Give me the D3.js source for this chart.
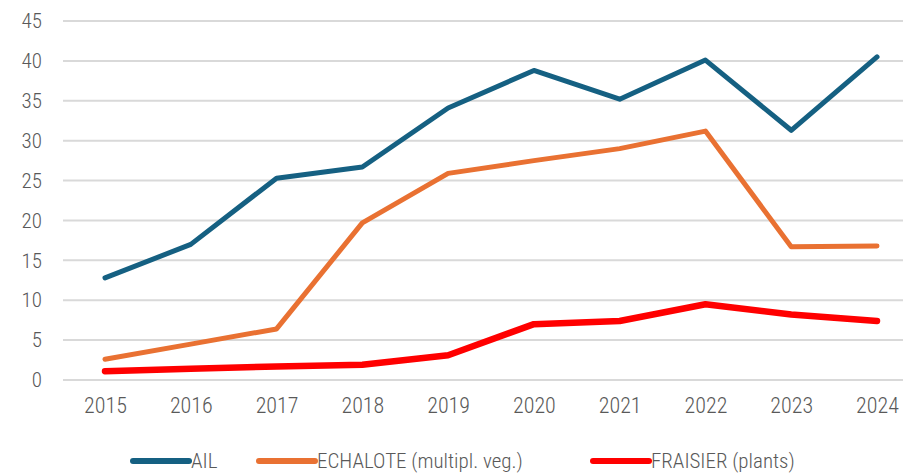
<!DOCTYPE html>
<html>
<head>
<meta charset="utf-8">
<script src="https://cdn.jsdelivr.net/npm/d3@7"></script>
<style>
  body { margin: 0; background: #fff; }
  text { font-family: "Liberation Sans Narrow", "Arial Narrow", "Roboto Condensed", "Liberation Sans", sans-serif; fill: #595959; font-weight: 300; }
</style>
</head>
<body>
<div id="chart"></div>
<script>
/*
 * data
 */
const years = ['2015', '2016', '2017', '2018', '2019', '2020', '2021', '2022', '2023', '2024']
const ail = [12.8, 17.0, 25.3, 26.7, 34.1, 38.8, 35.2, 40.1, 31.3, 40.5]
const echalote = [2.6, 4.5, 6.4, 19.7, 25.9, 27.5, 29.0, 31.2, 16.7, 16.8]
const fraisier = [1.1, 1.4, 1.7, 1.9, 3.1, 7.0, 7.4, 9.5, 8.2, 7.4]
const yTicks = [0, 5, 10, 15, 20, 25, 30, 35, 40, 45]
const seriesNames = ['AIL', 'ECHALOTE (multipl. veg.)', 'FRAISIER (plants)']

const series = [
  { name: seriesNames[0], values: ail, color: '#156082', width: 5 },
  { name: seriesNames[1], values: echalote, color: '#E97132', width: 5 },
  { name: seriesNames[2], values: fraisier, color: '#FF0000', width: 6.5 }
]

/*
 * svg
 */
const w = 903
const h = 474
const svg = d3.select('#chart')
  .append('svg')
  .attr('width', w)
  .attr('height', h)

const x = d3.scalePoint()
  .domain(years)
  .range([105, 877])

const y = d3.scaleLinear()
  .domain([0, 45])
  .range([380, 21])

// gridlines
svg.append('g')
  .selectAll('line')
  .data(yTicks)
  .enter()
  .append('line')
  .attr('x1', 63)
  .attr('x2', w)
  .attr('y1', d => y(d))
  .attr('y2', d => y(d))
  .style('stroke', '#d9d9d9')
  .style('stroke-width', 2)

// y labels
const yAxis = svg.append('g')
  .attr('transform', 'translate(42,0)')
  .call(d3.axisLeft(y).tickValues(yTicks).tickSize(0).tickPadding(0))
yAxis.select('.domain').remove()
yAxis.selectAll('text')
  .style('font-size', '21px')
  .attr('fill', '#595959')

// x labels
const xAxis = svg.append('g')
  .attr('transform', 'translate(0,397)')
  .call(d3.axisBottom(x).tickSize(0).tickPadding(0))
xAxis.select('.domain').remove()
xAxis.selectAll('text')
  .style('font-size', '22px')
  .attr('fill', '#595959')

// lines
const line = d3.line()
  .x((d, i) => x(years[i]))
  .y(d => y(d))

svg.append('g')
  .selectAll('path')
  .data(series)
  .enter()
  .append('path')
  .attr('d', d => line(d.values))
  .style('fill', 'none')
  .style('stroke', d => d.color)
  .style('stroke-width', d => d.width)
  .style('stroke-linecap', 'round')
  .style('stroke-linejoin', 'round')

// legend
const legendX = [133, 259, 593]
const legend = svg.append('g')
  .selectAll('g')
  .data(series)
  .enter()
  .append('g')
  .attr('transform', (d, i) => `translate(${legendX[i]},461)`)

legend.append('line')
  .attr('x1', 0)
  .attr('x2', 56)
  .style('stroke', d => d.color)
  .style('stroke-width', 6)
  .style('stroke-linecap', 'round')

legend.append('text')
  .attr('x', 58)
  .attr('dy', '0.33em')
  .style('font-size', '21px')
  .text(d => d.name)
</script>
</body>
</html>
